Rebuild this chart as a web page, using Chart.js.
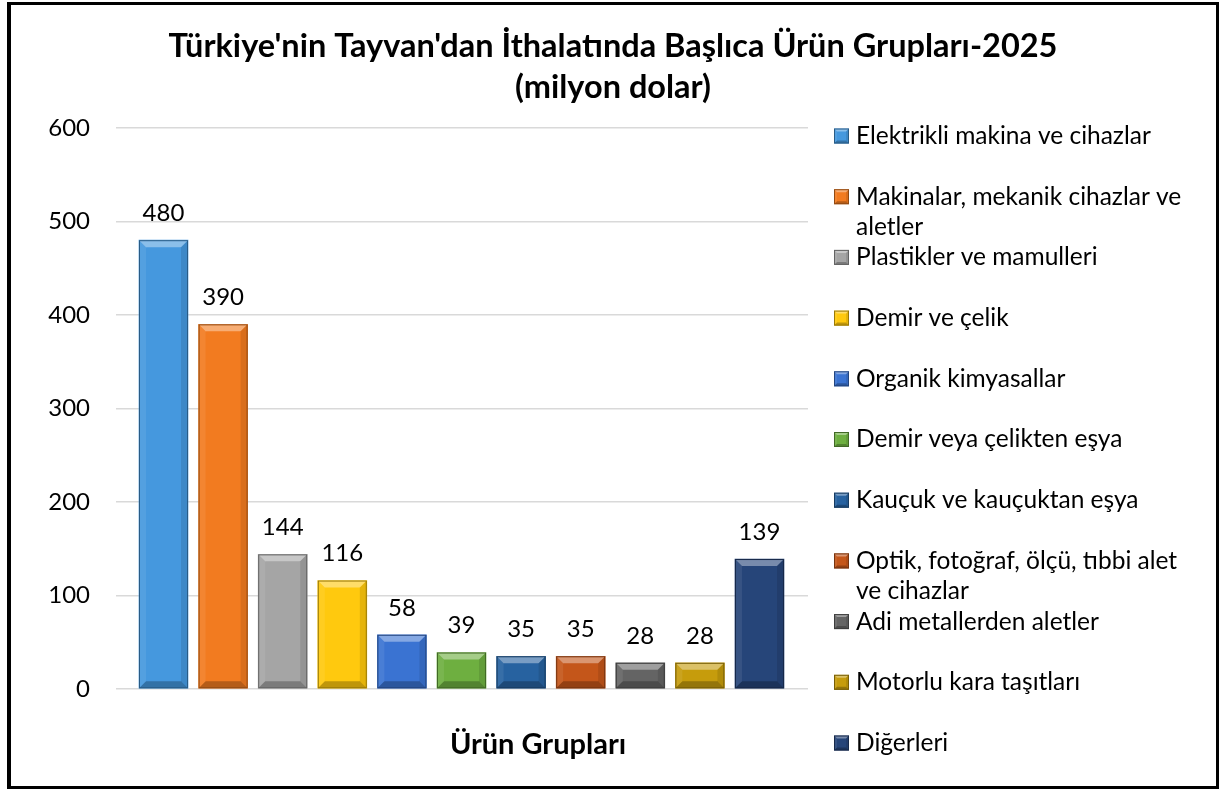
<!DOCTYPE html>
<html><head><meta charset="utf-8">
<script src="https://cdn.jsdelivr.net/npm/chart.js@4.4.1/dist/chart.umd.min.js"></script>
<style>
html,body{margin:0;padding:0;background:#fff;}
#wrap{position:relative;width:1219px;height:789px;overflow:hidden}
#frame{position:absolute;left:7px;top:2px;width:1212px;height:787px;border:3px solid #000;border-left-width:4px;box-sizing:border-box;pointer-events:none}
canvas{position:absolute;left:0;top:0}
</style></head>
<body>
<div id="wrap"><canvas id="c" width="1219" height="789"></canvas><div id="frame"></div></div>
<script>
const categories = [
  "Elektrikli makina ve cihazlar",
  "Makinalar, mekanik cihazlar ve aletler",
  "Plastikler ve mamulleri",
  "Demir ve çelik",
  "Organik kimyasallar",
  "Demir veya çelikten eşya",
  "Kauçuk ve kauçuktan eşya",
  "Optik, fotoğraf, ölçü, tıbbi alet ve cihazlar",
  "Adi metallerden aletler",
  "Motorlu kara taşıtları",
  "Diğerleri"
];
const values = [480, 390, 144, 116, 58, 39, 35, 35, 28, 28, 139];
const barColors = ["#4598DE","#F27B20","#A5A5A5","#FFC90E","#3A73D2","#6EAF40","#2762A0","#C4561A","#646464","#C69C0C","#264579"];
const yTicks = [0, 100, 200, 300, 400, 500, 600];
const titleLines = ["Türkiye'nin Tayvan'dan İthalatında Başlıca Ürün Grupları-2025", "(milyon dolar)"];
const xAxisTitle = "Ürün Grupları";

function shade(hex, f){
  const n = parseInt(hex.slice(1),16);
  let r=(n>>16)&255,g=(n>>8)&255,b=n&255;
  r=Math.round(r*f);g=Math.round(g*f);b=Math.round(b*f);
  return `rgb(${r},${g},${b})`;
}

function bevel(ctx, l, t, r, bo, b){
  ctx.save();
  const poly=(pts,fill)=>{ctx.beginPath();ctx.moveTo(pts[0][0],pts[0][1]);for(let i=1;i<pts.length;i++)ctx.lineTo(pts[i][0],pts[i][1]);ctx.closePath();ctx.fillStyle=fill;ctx.fill();};
  poly([[l,t],[r,t],[r-b,t+b],[l+b,t+b]],'rgba(255,255,255,0.38)');
  poly([[l,t],[l+b,t+b],[l+b,bo-b],[l,bo]],'rgba(255,255,255,0.08)');
  poly([[r,t],[r-b,t+b],[r-b,bo-b],[r,bo]],'rgba(0,0,0,0.10)');
  poly([[l,bo],[l+b,bo-b],[r-b,bo-b],[r,bo]],'rgba(0,0,0,0.25)');
  ctx.restore();
}

function wrapText(ctx, text, maxW){
  const words=text.split(' ');const lines=[];let cur='';
  for(const w of words){const test=cur?cur+' '+w:w;if(ctx.measureText(test).width>maxW&&cur){lines.push(cur);cur=w;}else cur=test;}
  if(cur)lines.push(cur);return lines;
}

const decor = {
  id:'decor',
  afterDatasetsDraw(chart){
    const ctx=chart.ctx;
    const meta=chart.getDatasetMeta(0);
    meta.data.forEach((el,i)=>{
      const p=el.getProps(['x','y','base','width'],true);
      const l=p.x-p.width/2,r=p.x+p.width/2,t=Math.min(p.y,p.base),bo=Math.max(p.y,p.base);
      const b=Math.min(7,(bo-t)/2);
      bevel(ctx,l,t,r,bo,b);
      ctx.save();ctx.strokeStyle=shade(barColors[i],0.6);ctx.lineWidth=1;ctx.strokeRect(l+0.5,t+0.5,p.width-1,bo-t-1);ctx.restore();
      ctx.save();ctx.font='24px Lato';ctx.fillStyle='#000';ctx.textAlign='center';ctx.textBaseline='middle';
      ctx.fillText(String(values[i]),p.x,t-27);ctx.restore();
    });
  },
  afterDraw(chart){
    const ctx=chart.ctx,ca=chart.chartArea;
    ctx.save();
    ctx.fillStyle='#000';ctx.textAlign='center';ctx.textBaseline='middle';
    ctx.font='bold 32.5px Lato';
    ctx.fillText(titleLines[0],613,47);
    ctx.fillText(titleLines[1],613,88);
    ctx.font='bold 29px Lato';
    ctx.fillText(xAxisTitle,ca.left+422,745);
    // legend
    ctx.font='24.5px Lato';ctx.textAlign='left';
    const x0=ca.right+26, y0=ca.top+8, step=60.7;
    categories.forEach((c,i)=>{
      const y=y0+i*step;
      ctx.fillStyle=barColors[i];ctx.fillRect(x0,y-7.5,15,15);
      bevel(ctx,x0,y-7.5,x0+15,y+7.5,3);
      ctx.strokeStyle=shade(barColors[i],0.6);ctx.lineWidth=1;ctx.strokeRect(x0+0.5,y-7,14,14);
      ctx.fillStyle='#000';
      const lines=wrapText(ctx,c,338);
      lines.forEach((ln,k)=>ctx.fillText(ln,x0+22,y+k*30));
    });
    ctx.restore();
  }
};

new Chart(document.getElementById('c'),{
  type:'bar',
  data:{datasets:[{
    data: values.map((v,i)=>({x:i,y:v})),
    backgroundColor: barColors,
    borderWidth:0,
    barThickness:49
  }]},
  options:{
    responsive:false,animation:false,
    layout:{padding:{top:128,left:0,right:411,bottom:100}},
    plugins:{legend:{display:false},title:{display:false},tooltip:{enabled:false}},
    scales:{
      x:{type:'linear',offset:false,min:-0.797,max:10.814,display:false,grid:{offset:false}},
      y:{min:0,max:600,
         afterBuildTicks:(s)=>{s.ticks=yTicks.map(v=>({value:v}));},
         afterFit:(s)=>{s.width=116;},
         ticks:{font:{family:'Lato',size:24},color:'#000',padding:26},
         grid:{color:'#d9d9d9',lineWidth:1.5,drawTicks:false},
         border:{display:false}}
    }
  },
  plugins:[decor]
});
</script>
</body></html>
